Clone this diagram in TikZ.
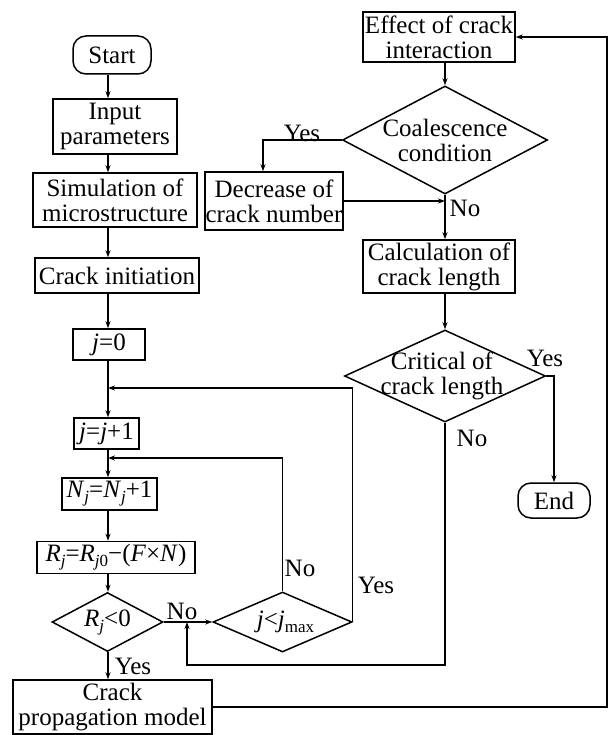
\documentclass[tikz,border=0pt]{standalone}
\usepackage{fontspec}
\setmainfont{Liberation Serif}
\usetikzlibrary{arrows.meta, positioning, shapes.geometric}

% lowered index for R_j, N_j, j_max
\newcommand{\lowidx}[1]{\raisebox{-5pt}{\fontsize{17}{17}\selectfont #1}}

\begin{document}
\begin{tikzpicture}[
    x=1pt, y=-1pt,
    % Node styles
    proc/.style={
        rectangle, draw, line width=1.5pt, inner sep=0pt,
        align=center, font=\fontsize{25}{25}\selectfont,
    },
    term/.style={
        proc, rounded corners=13pt,
    },
    decision/.style={
        diamond, draw, line width=1.5pt, inner sep=0pt,
    },
    dtext/.style={
        align=center, inner sep=0pt, font=\fontsize{25}{25}\selectfont,
    },
    tag/.style={
        inner sep=0pt, font=\fontsize{25}{25}\selectfont,
    },
    box size/.style 2 args={
        minimum width=#1, minimum height=#2,
    },
    % Edge/arrow style
    flow/.style={
        draw, line width=1.3pt, -{Stealth[length=7pt, width=5pt]},
    },
]
    \useasboundingbox (0,0) rectangle (609,735);

    % --- Main column ---
    \node[term, box size={78}{38}] (start) at (112,55) {Start};
    \node[proc, box size={124}{55}] (input) at (115,126.5) {Input\\parameters};
    \node[proc, box size={164}{54}] (sim) at (115,200) {Simulation of\\microstructure};
    \node[proc, box size={164}{35}] (init) at (117,275.5) {Crack initiation};
    \node[proc, box size={72}{31}] (j0) at (109,344.5) {\textit{j}=0};
    \node[proc, box size={65}{31}] (jinc) at (106.5,433.5) {\textit{j}=\textit{j}+1};
    \node[proc, box size={95}{32}] (nj) at (109.5,494)
        {\textit{N}\lowidx{\textit{j}}=\textit{N}\lowidx{\textit{j}}+1};
    \node[proc, box size={158}{32}] (rj) at (116,557.5)
        {\textit{R}\lowidx{\textit{j}}=\textit{R}\lowidx{\textit{j}0}−(\textit{F}×\textit{N})};
    \node[decision, box size={111}{59}] (rneg) at (107.5,622) {};
    \node[dtext] (rneg-t) at (rneg) {\textit{R}\lowidx{\textit{j}}<0};
    \node[decision, box size={139}{60}] (jmax) at (282.5,622) {};
    \node[dtext] (jmax-t) at ([xshift=3pt]jmax) {\textit{j}<\textit{j}\lowidx{max}};
    \node[proc, box size={199}{54}] (prop) at (112.5,707) {Crack\\propagation model};

    % --- Crack growth column ---
    \node[proc, box size={152}{50}] (eff) at (439,37) {Effect of crack\\interaction};
    \node[decision, box size={205}{108}] (coal) at (445,140) {};
    \node[dtext] (coal-t) at (coal) {Coalescence\\condition};
    \node[proc, box size={138}{58}] (dec) at (274,201) {Decrease of\\crack number};
    \node[proc, box size={152}{53}] (calc) at (439,266.5) {Calculation of\\crack length};
    \node[decision, box size={201}{92}] (crit) at (445,376) {};
    \node[dtext] (crit-t) at ([xshift=-3pt]crit) {Critical of\\crack length};
    \node[term, box size={72}{35}] (end) at (554,500.5) {End};

    % --- Branch labels ---
    \node[tag] (yes-coal) at (302,133) {Yes};
    \node[tag] (no-coal) at (465,208) {No};
    \node[tag] (yes-crit) at (545,358) {Yes};
    \node[tag] (no-crit) at (472,438) {No};
    \node[tag] (no-rneg) at (182,611) {No};
    \node[tag] (yes-rneg) at (133,666) {Yes};
    \node[tag] (no-jmax) at (300,568) {No};
    \node[tag] (yes-jmax) at (376,585) {Yes};

    % helper points for the loops
    \coordinate (spine) at (108,0);
    \coordinate (rspine) at (445,0);
    \coordinate (back1) at (108,388);
    \coordinate (back2) at (108,458);
    \coordinate (nojoin) at (187,622);
    \coordinate (lowturn) at (187,665);
    \coordinate (rim) at (607,0);

    % --- Connectors, main column ---
    \draw[flow] (spine |- start.south) -- (spine |- input.north);
    \draw[flow] (spine |- input.south) -- (spine |- sim.north);
    \draw[flow] (spine |- sim.south) -- (spine |- init.north);
    \draw[flow] (spine |- init.south) -- (spine |- j0.north);
    \draw[flow] (spine |- j0.south) -- (spine |- jinc.north);
    \draw[flow] (spine |- jinc.south) -- (spine |- nj.north);
    \draw[flow] (spine |- nj.south) -- (spine |- rj.north);
    \draw[flow] (spine |- rj.south) -- (spine |- rneg.north);
    \draw[flow] (spine |- rneg.south) -- (spine |- prop.north);
    \draw[flow] (rneg.east) -- (jmax.west);
    \draw[flow] (jmax.north) |- (back2);
    \draw[flow] (jmax.east) |- (back1);
    \draw[flow] (prop.east) -- (prop.east -| rim) |- (eff.east);

    % --- Connectors, crack growth column ---
    \draw[flow] (rspine |- eff.south) -- (coal.north);
    \draw[flow] (coal.west) -| ([xshift=-11pt]dec.north);
    \draw[flow] (dec.east) -- (dec.east -| rspine);
    \draw[flow] (coal.south) -- (rspine |- calc.north);
    \draw[flow] (rspine |- calc.south) -- (crit.north);
    \draw[flow] (crit.east) -| (end.north);
    \draw[flow] (crit.south) |- (lowturn) -- (nojoin);

\end{tikzpicture}
\end{document}
